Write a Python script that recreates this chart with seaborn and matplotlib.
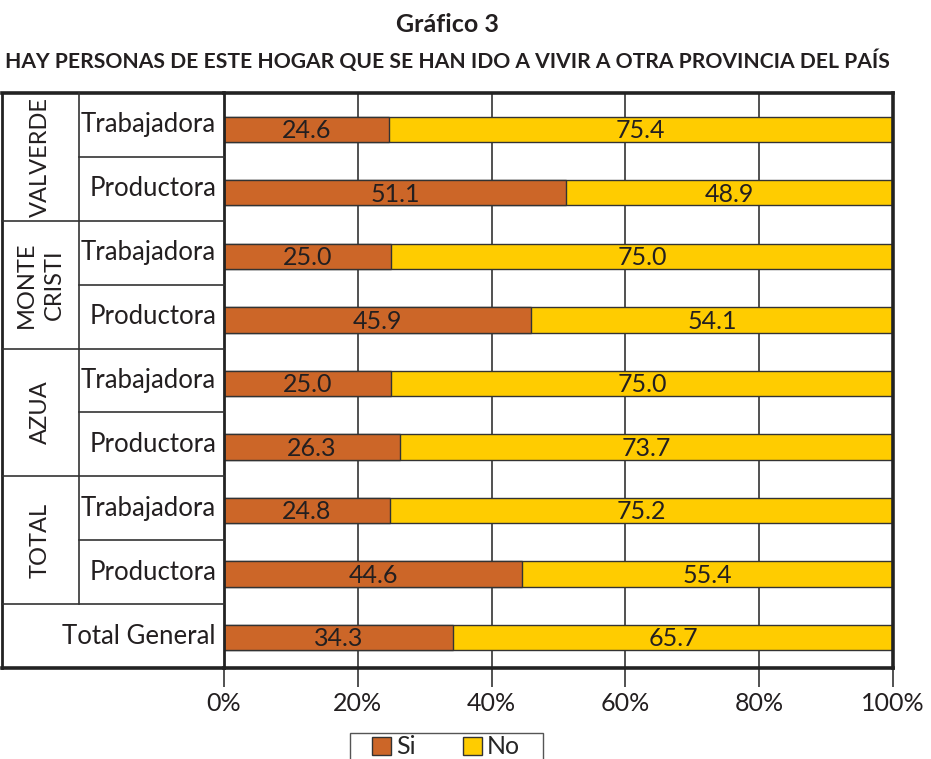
import matplotlib
matplotlib.use("Agg")
import matplotlib.pyplot as plt
from matplotlib.patches import Patch, Rectangle
from matplotlib.lines import Line2D
import seaborn as sns
import pandas as pd

groups = ["VALVERDE", "MONTE\nCRISTI", "AZUA", "TOTAL"]
row_labels = ["Trabajadora", "Productora", "Trabajadora", "Productora",
              "Trabajadora", "Productora", "Trabajadora", "Productora",
              "Total General"]
si_values = [24.6, 51.1, 25.0, 45.9, 25.0, 26.3, 24.8, 44.6, 34.3]
no_values = [75.4, 48.9, 75.0, 54.1, 75.0, 73.7, 75.2, 55.4, 65.7]
x_ticks = [0, 20, 40, 60, 80, 100]
x_tick_labels = ["0%", "20%", "40%", "60%", "80%", "100%"]
title1 = "Gráfico 3"
title2 = "HAY PERSONAS DE ESTE HOGAR QUE SE HAN IDO A VIVIR A OTRA PROVINCIA DEL PAÍS"

ORANGE = "#CC6628"
YELLOW = "#FFCC00"
DARK = "#222222"
FONT = ["Lato", "DejaVu Sans"]

sns.set_theme(style="white")
plt.rcParams["font.family"] = FONT

W, H = 931, 759
fig = plt.figure(figsize=(W / 100, H / 100), dpi=100)

def fx(px):
    return px / W

def fy(py):
    return 1 - py / H

ax = fig.add_axes([fx(224), fy(668), fx(893) - fx(224), fy(93) - fy(668)])

df = pd.DataFrame({
    "row": [f"r{i}" for i in range(len(si_values))],
    "si": si_values,
    "no": no_values,
})
df["total"] = df["si"] + df["no"]

sns.barplot(data=df, x="total", y="row", color=YELLOW, saturation=1,
            edgecolor="#333333", linewidth=1.0, width=0.4, errorbar=None,
            orient="h", ax=ax)
sns.barplot(data=df, x="si", y="row", color=ORANGE, saturation=1,
            edgecolor="#333333", linewidth=1.0, width=0.4, errorbar=None,
            orient="h", ax=ax)

for i, (s, n) in enumerate(zip(si_values, no_values)):
    ax.text(s / 2, i + 0.02, f"{s:.1f}", ha="center", va="center",
            fontsize=18, color="#231f20")
    ax.text(s + n / 2, i + 0.02, f"{n:.1f}", ha="center", va="center",
            fontsize=18, color="#231f20")

ax.set_xlim(0, 100)
ax.set_ylim(8.48, -0.57)
ax.set_xticks(x_ticks)
ax.set_xticklabels(x_tick_labels, fontsize=18, color="#231f20")
ax.set_yticks([])
ax.set_xlabel("")
ax.set_ylabel("")
ax.xaxis.grid(True, color=DARK, linewidth=1.1)
ax.yaxis.grid(False)
ax.set_axisbelow(True)
ax.tick_params(axis="x", length=14, width=1.1, color=DARK, direction="out",
               pad=3, bottom=True)
for side, sp in ax.spines.items():
    sp.set_visible(True)
    sp.set_color(DARK)
    sp.set_linewidth(2.6 if side != "left" else 2.0)

# Table on the left
def fline(x0, y0, x1, y1, lw=1.2, color="#333333"):
    fig.add_artist(Line2D([fx(x0), fx(x1)], [fy(y0), fy(y1)], lw=lw,
                          color=color, transform=fig.transFigure,
                          solid_capstyle="projecting"))

row_edges = [93 + k * (668 - 93) / 9 for k in range(10)]
fline(2, 93, 224, 93, lw=2.6, color=DARK)
fline(2, 668, 224, 668, lw=2.6, color=DARK)
fline(2, 93, 2, 668, lw=2.0, color=DARK)
fline(79, 93, 79, row_edges[8])
for k in range(1, 9):
    if k % 2 == 1:
        fline(79, row_edges[k], 224, row_edges[k])
    else:
        fline(2, row_edges[k], 224, row_edges[k])

for k, lab in enumerate(row_labels):
    yc = (row_edges[k] + row_edges[k + 1]) / 2
    fig.text(fx(216), fy(yc), lab, ha="right", va="center", fontsize=18.5,
             color="#231f20")

for g, name in enumerate(groups):
    yc = row_edges[2 * g + 1]
    fig.text(fx(40), fy(yc), name, ha="center", va="center", rotation=90,
             multialignment="center", fontsize=17, color="#231f20",
             linespacing=1.4)

fig.text(fx(447), fy(24), title1, ha="center", va="center", fontsize=18,
         fontweight="bold", color="#231f20")
fig.text(fx(447), fy(61), title2, ha="center", va="center", fontsize=15.2,
         fontweight="bold", color="#231f20")

# legend with a manual frame like the reference
fig.add_artist(Rectangle((fx(350), fy(762)), fx(543) - fx(350),
                         fy(733) - fy(762), transform=fig.transFigure,
                         facecolor="white", edgecolor="#555555", lw=1.0))
handles = [Patch(facecolor=ORANGE, edgecolor="#333333", linewidth=1.0),
           Patch(facecolor=YELLOW, edgecolor="#333333", linewidth=1.0)]
leg = fig.legend(handles, ["Si", "No"], loc="center",
                 bbox_to_anchor=(fx(446), fy(747)), ncol=2, frameon=False,
                 fontsize=18, handlelength=0.75, handleheight=0.75,
                 columnspacing=1.9, handletextpad=0.2, borderpad=0,
                 borderaxespad=0)

fig.savefig("out.png", dpi=100)
